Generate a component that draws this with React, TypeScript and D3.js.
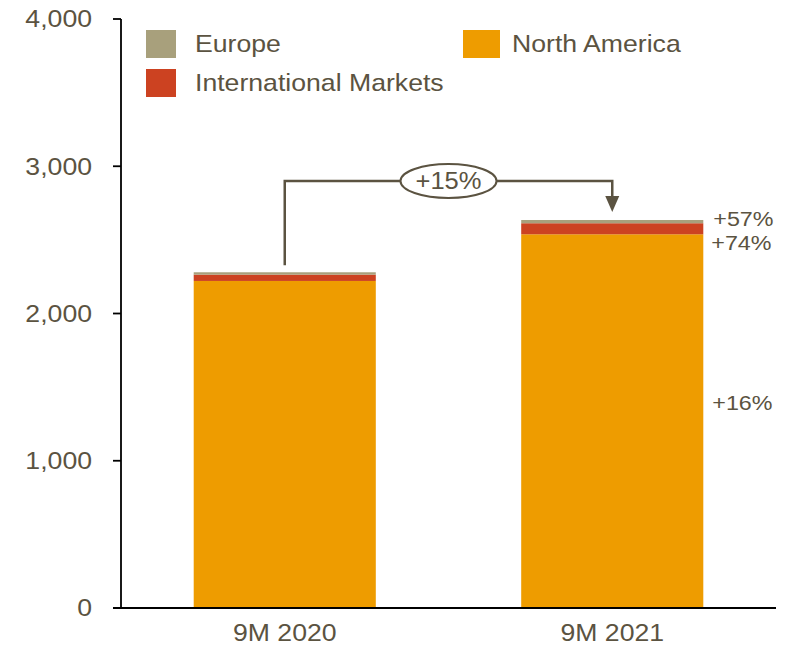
import * as d3 from "d3"

const categories = ["9M 2020", "9M 2021"]
const northAmerica = [2221, 2538]
const international = [43, 75]
const europe = [16, 22]
const growthLabels = ["+16%", "+74%", "+57%"]
const totalGrowth = "+15%"
const yTicks = [0, 1000, 2000, 3000, 4000]
const seriesNames = ["Europe", "International Markets", "North America"]

const W = 787
const H = 645
const TEXT = "#5b5341"
const FONT = "'Liberation Sans', Arial, sans-serif"
const colors: Record<string, string> = {
  "North America": "#ee9c00",
  "International Markets": "#cc4221",
  "Europe": "#a8a07c",
}

// the reference text is a little wider than the font, so stretch it
function T({ x, y, size = 24, anchor = "start", children }: any) {
  return (
    <text transform={`translate(${x},${y}) scale(1.11,1)`} dy="0.35em"
      textAnchor={anchor} fontSize={size} fill={TEXT}>{children}</text>
  )
}

export default function App() {
  const x = d3.scaleBand<string>().domain(categories).range([121, 776]).padding(0)
  const y = d3.scaleLinear().domain([0, 4000]).range([608, 19])
  const barW = x.bandwidth() * 0.556

  const rows = categories.map((c, i) => ({
    cat: c,
    "North America": northAmerica[i],
    "International Markets": international[i],
    "Europe": europe[i],
  }))
  const stacked = d3.stack<any>().keys(["North America", "International Markets", "Europe"])(rows)

  const cx = (c: string) => (x(c) as number) + x.bandwidth() / 2
  const c0 = cx(categories[0])
  const c1 = cx(categories[1])
  const top0 = y(northAmerica[0] + international[0] + europe[0])
  const top1 = y(northAmerica[1] + international[1] + europe[1])
  const lineY = y(2900)
  const midX = (c0 + c1) / 2
  const labelX = c1 + barW / 2 + 8

  return (
    <div style={{ position: "absolute", left: 0, top: 0 }}>
      <svg width={W} height={H} style={{ display: "block", fontFamily: FONT }}>
        {stacked.map(s => (
          <g key={s.key} fill={colors[s.key]}>
            {s.map((d, i) => (
              <rect key={i} x={cx(categories[i]) - barW / 2} y={y(d[1])}
                width={barW} height={y(d[0]) - y(d[1])} />
            ))}
          </g>
        ))}

        {/* axes */}
        <line x1={121} x2={121} y1={y(4000)} y2={y(0)} stroke="#000" strokeWidth={1.8} />
        <line x1={113} x2={776} y1={y(0)} y2={y(0)} stroke="#000" strokeWidth={1.8} />
        {yTicks.map(t => (
          <g key={t}>
            <line x1={113} x2={121} y1={y(t)} y2={y(t)} stroke="#000" strokeWidth={1.8} />
            <T x={92} y={y(t)} anchor="end">{d3.format(",")(t)}</T>
          </g>
        ))}
        {categories.map(c => (
          <T key={c} x={cx(c)} y={633} anchor="middle">{c}</T>
        ))}

        {/* segment growth labels */}
        <T x={labelX + 1} y={y(northAmerica[1] * 0.55)} size={21}>{growthLabels[0]}</T>
        <T x={labelX} y={y(northAmerica[1] + international[1] / 2) + 14} size={21}>{growthLabels[1]}</T>
        <T x={labelX + 2} y={y(northAmerica[1] + international[1] + europe[1] / 2) - 3} size={21}>{growthLabels[2]}</T>

        {/* total growth connector */}
        <path d={`M${c0},${top0 - 7}V${lineY}H${c1}V${top1 - 22}`} fill="none" stroke={TEXT} strokeWidth={2.5} />
        <path d={`M${c1 - 7},${top1 - 24}L${c1 + 7},${top1 - 24}L${c1},${top1 - 8}Z`} fill={TEXT} />
        <ellipse cx={midX} cy={lineY} rx={48} ry={17} fill="#fff" stroke={TEXT} strokeWidth={2} />
        <T x={midX} y={lineY} anchor="middle" size={23}>{totalGrowth}</T>

        {/* legend */}
        {seriesNames.map((n, i) => {
          const lx = i === 2 ? 463 : 146
          const ly = i === 1 ? 69 : 30
          return (
            <g key={n}>
              <rect x={lx} y={ly} width={i === 2 ? 37 : 30} height={28} fill={colors[n]} />
              <T x={lx + 49} y={ly + 14}>{n}</T>
            </g>
          )
        })}
      </svg>
    </div>
  )
}
